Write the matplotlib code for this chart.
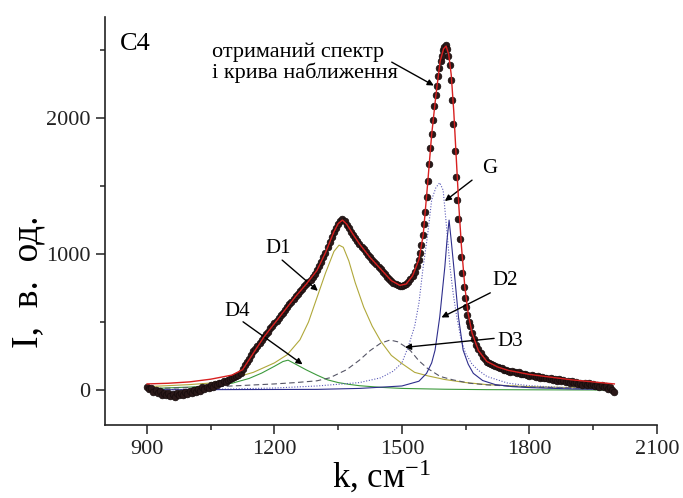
import numpy as np
import matplotlib
matplotlib.use("Agg")
import matplotlib.pyplot as plt
from matplotlib.ticker import MultipleLocator

plt.rcParams['font.family'] = ['Liberation Serif', 'DejaVu Serif']
plt.rcParams['mathtext.default'] = 'regular'

k_a = np.arange(900, 1536, 5)
I_a = [25, 5, 15, -15, 0, -25, -10, -35, -20, -40, -25, -45, -30, -50, -25, -40,
       -20, -35, -15, -30, -5, -20, 0, -15, 10, -5, 20, 5, 25, 15, 35, 25, 45, 40,
       55, 50, 65, 60, 75, 80, 90, 95, 100, 110, 125, 155, 185, 205, 230, 260, 285,
       305, 325, 345, 370, 390, 410, 430, 455, 470, 490, 505, 530, 550, 570, 590,
       610, 630, 650, 670, 690, 705, 725, 745, 765, 780, 795, 810, 830, 855, 880,
       910, 940, 975, 1010, 1050, 1090, 1125, 1165, 1195, 1225, 1245, 1255, 1240,
       1215, 1190, 1165, 1140, 1120, 1095, 1075, 1055, 1035, 1015, 995, 975, 960,
       940, 925, 905, 890, 870, 855, 835, 820, 805, 790, 780, 770, 765, 765, 770,
       780, 795, 815, 840, 870, 910]
k_b = np.arange(1540, 1658, 3)
I_b = [960, 1010, 1070, 1140, 1220, 1310, 1420, 1540, 1660, 1780, 1880, 1990,
       2090, 2170, 2240, 2310, 2370, 2420, 2460, 2500, 2520, 2540, 2510, 2460,
       2390, 2280, 2130, 1960, 1760, 1570, 1400, 1260, 1110, 980, 860, 760, 680,
       610, 550, 500]
k_c = np.arange(1660, 2001, 5)
I_c = [470, 420, 375, 335, 300, 270, 245, 225, 210, 200, 190, 185, 175, 170, 165,
       160, 150, 150, 140, 135, 140, 130, 125, 130, 120, 115, 120, 110, 105, 110,
       100, 95, 100, 90, 95, 85, 90, 80, 85, 75, 80, 70, 80, 65, 75, 60, 70, 55, 65,
       50, 60, 45, 55, 40, 50, 35, 55, 40, 45, 30, 40, 25, 35, 20, 30, 10, 20, 0, -15]

# fitted curve
fit_k = [900, 950, 1000, 1050, 1100, 1125, 1150, 1175, 1200, 1225, 1250, 1275, 1300,
         1320, 1340, 1350, 1360, 1370, 1385, 1400, 1425, 1450, 1475, 1495, 1510,
         1525, 1540, 1550, 1560, 1570, 1580, 1590, 1598, 1604, 1610, 1616, 1622,
         1628, 1634, 1640, 1648, 1656, 1665, 1680, 1700, 1725, 1750, 1800, 1850,
         1900, 1950, 2000]
fit_I = [45, 50, 60, 80, 110, 150, 270, 390, 490, 590, 690, 780, 880, 1010, 1165,
         1225, 1250, 1220, 1145, 1075, 975, 890, 805, 770, 780, 840, 960, 1140, 1500,
         1880, 2170, 2420, 2510, 2530, 2470, 2320, 2050, 1700, 1350, 1060, 760, 560,
         420, 290, 210, 170, 145, 115, 95, 75, 60, 45]

# components
d1_k = [900, 1000, 1050, 1100, 1150, 1200, 1230, 1260, 1280, 1300, 1320, 1340, 1352,
        1362, 1375, 1390, 1410, 1430, 1450, 1475, 1500, 1530, 1560, 1600, 1650,
        1700, 1800, 1900, 2000]
d1_I = [25, 40, 52, 85, 130, 200, 260, 370, 500, 680, 860, 1020, 1066, 1050, 950,
        790, 610, 470, 360, 255, 195, 130, 105, 78, 55, 40, 25, 18, 12]
d4_k = [900, 1000, 1050, 1100, 1140, 1170, 1200, 1220, 1232, 1250, 1275, 1300, 1325,
        1350, 1375, 1400, 1450, 1500, 1600, 1700, 1800, 2000]
d4_I = [10, 22, 30, 50, 85, 125, 175, 210, 220, 190, 148, 110, 75, 55, 42, 32, 20,
        12, 6, 3, 2, 0]
d3_k = [900, 1000, 1100, 1200, 1250, 1300, 1330, 1370, 1400, 1425, 1450, 1472, 1490,
        1505, 1520, 1540, 1560, 1590, 1620, 1660, 1700, 1800, 1900, 2000]
d3_I = [10, 18, 30, 45, 55, 68, 90, 150, 220, 290, 345, 368, 355, 325, 290, 215, 160,
        100, 75, 50, 38, 22, 15, 10]
g_k = [900, 1100, 1200, 1300, 1400, 1450, 1480, 1500, 1515, 1530, 1540, 1550, 1560,
       1570, 1580, 1589, 1597, 1605, 1613, 1621, 1629, 1640, 1650, 1665, 1680, 1700,
       1750, 1800, 1900, 2000]
g_I = [3, 8, 15, 30, 55, 90, 140, 200, 320, 470, 640, 907, 1130, 1400, 1490, 1525,
       1470, 1200, 907, 700, 539, 360, 270, 190, 145, 100, 50, 32, 15, 8]
d2_k = [900, 1300, 1400, 1500, 1540, 1558, 1570, 1578, 1589, 1601, 1606, 1611, 1616,
        1622, 1633, 1644, 1656, 1668, 1690, 1720, 1760, 1800, 1900, 2000]
d2_I = [2, 5, 12, 30, 65, 123, 200, 294, 539, 907, 1100, 1250, 1100, 907, 539, 294,
        190, 123, 70, 40, 25, 18, 8, 4]

k_data = np.concatenate([k_a, k_b, k_c])
I_data = np.array(I_a + I_b + I_c)

fig = plt.figure(figsize=(6.83, 4.98), dpi=100)
ax = fig.add_axes([0.1537, 0.1466, 0.808, 0.819])

ax.plot(d4_k, d4_I, color='#3c9a3c', lw=0.8)
ax.plot(d1_k, d1_I, color='#b0a83a', lw=0.8)
ax.plot(d3_k, d3_I, color='#555566', lw=0.8, ls=(0, (5, 3)))
ax.plot(g_k, g_I, color='#5a5ab8', lw=0.8, ls=(0, (1, 1.5)))
ax.plot(d2_k, d2_I, color='#2e2e8c', lw=0.8)
ax.plot(k_data, I_data, 'o', ms=4.8, mfc='#2a1818', mec='#140a0a', mew=0.5, zorder=3)
ax.plot(fit_k, fit_I, color='#d82020', lw=1.0, zorder=4)

ax.set_xlim(801, 2100)
ax.set_ylim(-257, 2743)
ax.xaxis.set_major_locator(MultipleLocator(300))
ax.xaxis.set_minor_locator(MultipleLocator(150))
ax.yaxis.set_major_locator(MultipleLocator(1000))
ax.yaxis.set_minor_locator(MultipleLocator(500))
for s in ['top', 'right']:
    ax.spines[s].set_visible(False)
for s in ['left', 'bottom']:
    ax.spines[s].set_linewidth(1.2)
    ax.spines[s].set_color('#222222')
ax.tick_params(which='major', direction='out', length=6.5, width=1.1, labelsize=16,
               pad=4, colors='#222222')
ax.tick_params(which='minor', direction='out', length=3.6, width=1.1, colors='#222222')

ax.set_xlabel('k, см$^{-1}$', fontsize=25, labelpad=0)
ax.set_ylabel('I,  в.  од.', fontsize=27)
ax.yaxis.set_label_coords(-0.108, 0.35)

ax.text(836, 2625, 'C4', fontsize=19, va='top', ha='left')
ax.text(1052, 2560, 'отриманий спектр\nі крива наближення', fontsize=16,
        va='top', ha='left', linespacing=1.05)

labels = ['G', 'D2', 'D3', 'D1', 'D4']
label_pos = [(1707, 1632), (1743, 809), (1754, 355), (1209, 1042), (1113, 576)]
arrow_tail = [(1665, 1544), (1708, 715), (1717, 380), (1218, 956), (1126, 502)]
arrow_head = [(1601, 1390), (1593, 534), (1507, 314), (1302, 730), (1266, 189)]

for lab, p in zip(labels, label_pos):
    ax.text(p[0], p[1], lab, fontsize=15, ha='center', va='center')
for t, h in zip(arrow_tail + [(1476, 2412)], arrow_head + [(1575, 2240)]):
    ax.annotate('', xy=h, xytext=t,
                arrowprops=dict(arrowstyle='-|>', color='black', lw=1.0,
                                mutation_scale=9, shrinkA=0, shrinkB=0))

fig.savefig('out.png', dpi=100)
